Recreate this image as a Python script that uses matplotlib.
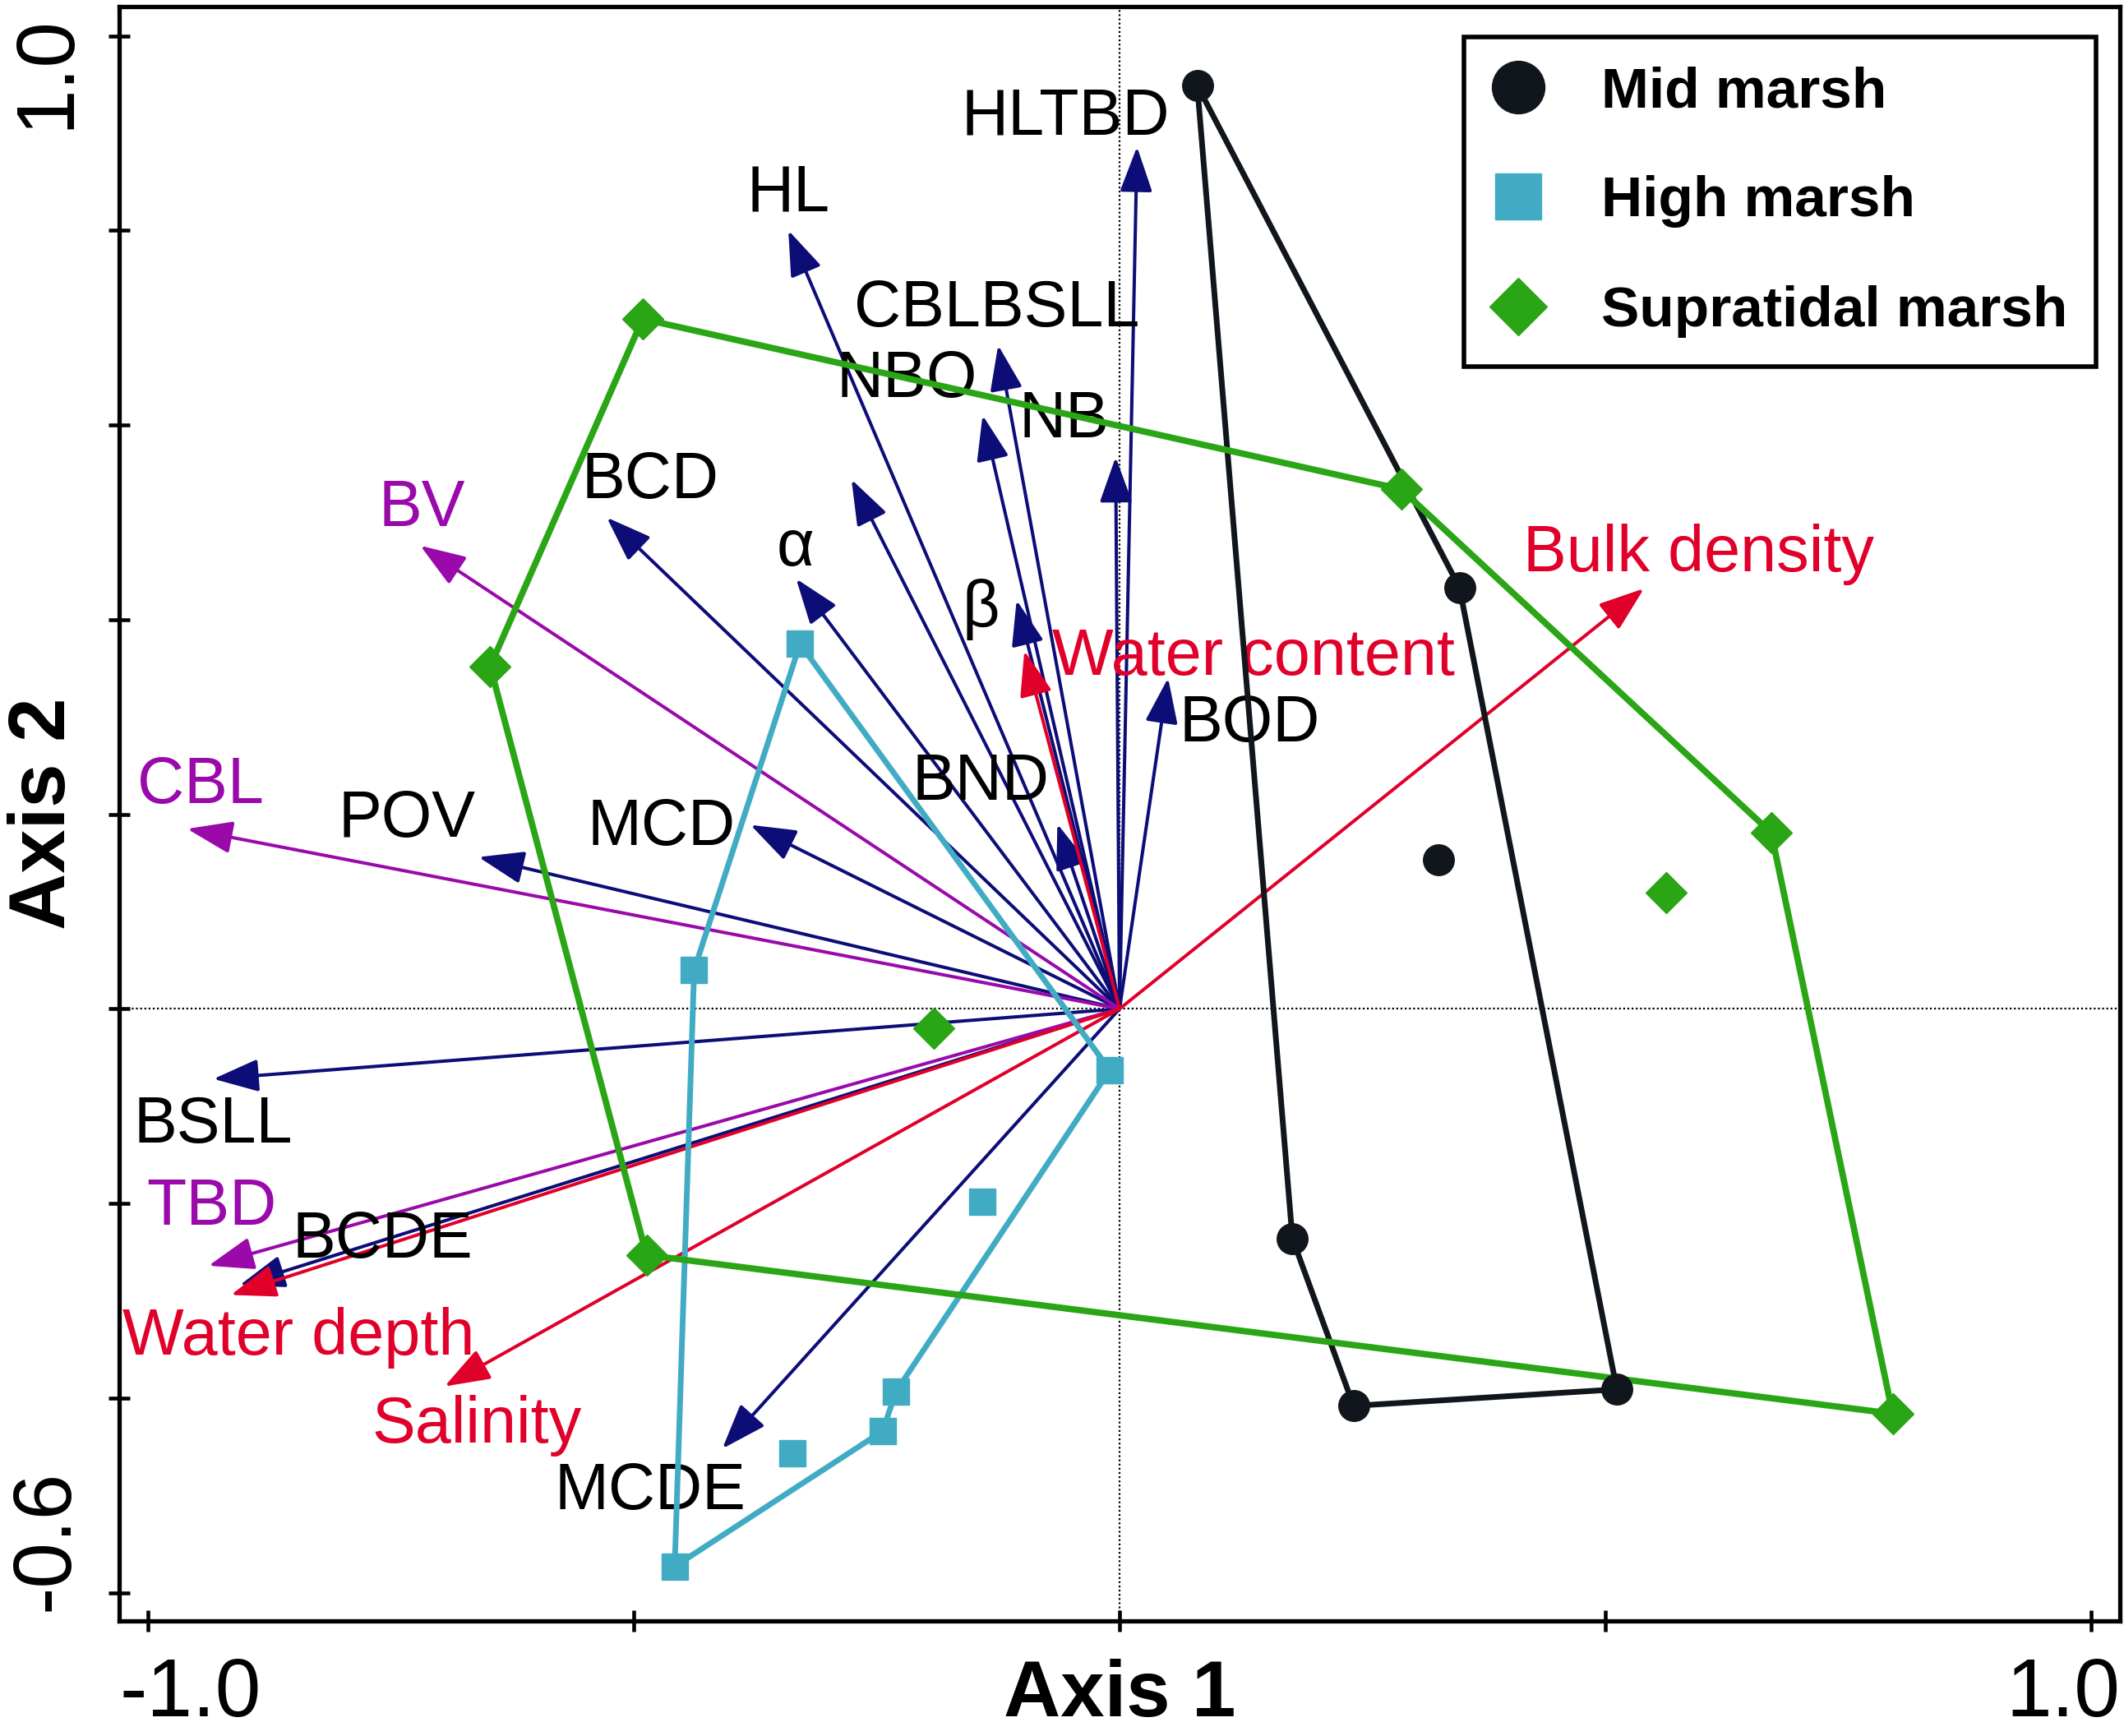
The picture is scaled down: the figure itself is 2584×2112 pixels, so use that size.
import matplotlib
matplotlib.use("Agg")
import matplotlib.pyplot as plt
from matplotlib.lines import Line2D

plt.rcParams['font.family'] = ['Liberation Sans', 'DejaVu Sans']

# Site scores (hull vertices in drawing order, then interior points)
mid_hull_x = [0.080, 0.350, 0.512, 0.241, 0.178]
mid_hull_y = [0.949, 0.433, -0.391, -0.408, -0.236]
mid_in_x = [0.328]
mid_in_y = [0.153]

high_hull_x = [-0.329, -0.010, -0.230, -0.244, -0.458, -0.438]
high_hull_y = [0.375, -0.063, -0.393, -0.434, -0.573, 0.040]
high_in_x = [-0.141, -0.337]
high_in_y = [-0.198, -0.457]

sup_hull_x = [-0.491, 0.290, 0.671, 0.796, -0.487, -0.648]
sup_hull_y = [0.709, 0.534, 0.181, -0.416, -0.253, 0.352]
sup_in_x = [-0.191, 0.563]
sup_in_y = [-0.020, 0.119]

# Trait vectors (navy)
trait_names = ['HLTBD', 'HL', 'CBLBSLL', 'NBO', 'NB', '', 'BCD', 'α', 'β',
               'BOD', 'BND', 'MCD', 'POV', 'BSLL', 'BCDE', 'MCDE']
trait_x = [0.018, -0.341, -0.125, -0.141, -0.004, -0.276, -0.528, -0.333, -0.106,
           0.050, -0.064, -0.380, -0.660, -0.933, -0.906, -0.409]
trait_y = [0.886, 0.800, 0.682, 0.610, 0.567, 0.544, 0.505, 0.442, 0.420,
           0.340, 0.190, 0.189, 0.156, -0.072, -0.284, -0.452]

# Vectors (purple)
purple_names = ['BV', 'CBL', 'TBD']
purple_x = [-0.720, -0.960, -0.938]
purple_y = [0.476, 0.185, -0.264]

# Environmental vectors (red)
env_names = ['Water content', 'Water depth', 'Salinity', 'Bulk density']
env_x = [-0.098, -0.915, -0.695, 0.540]
env_y = [0.368, -0.294, -0.388, 0.432]

# label positions
trait_lab = [(-0.056, 0.923), (-0.341, 0.845), (-0.126, 0.726), (-0.219, 0.653),
             (-0.057, 0.612), (0, 0), (-0.483, 0.549), (-0.334, 0.480),
             (-0.143, 0.418), (0.134, 0.299), (-0.143, 0.239), (-0.472, 0.193),
             (-0.734, 0.201), (-0.933, -0.113), (-0.759, -0.231), (-0.483, -0.490)]
purple_lab = [(-0.718, 0.521), (-0.946, 0.236), (-0.935, -0.197)]
env_lab = [(0.138, 0.368), (-0.845, -0.331), (-0.662, -0.421), (0.596, 0.474)]

legend_labels = ['Mid marsh', 'High marsh', 'Supratidal marsh']

c_mid = '#11151c'
c_high = '#42abc4'
c_sup = '#2aa515'
c_navy = '#0d0d78'
c_purple = '#9a0aab'
c_red = '#e0002a'

fig = plt.figure(figsize=(25.84, 21.12), dpi=100)
ax = fig.add_axes([145 / 2584, 140 / 2112, 2434 / 2584, 1964 / 2112])
ax.set_xlim(-1.03, 1.03)
ax.set_ylim(-0.629, 1.03)

ax.axhline(0, color='black', lw=1.6, ls=(0, (1, 1.3)), zorder=1)
ax.axvline(0, color='black', lw=1.6, ls=(0, (1, 1.3)), zorder=1)

astyle = '-|>,head_length=1.0,head_width=0.36'


def draw_vectors(xs, ys, names, labs, col, txtcol):
    for x, y, name, (lx, ly) in zip(xs, ys, names, labs):
        ax.annotate('', xy=(x, y), xytext=(0, 0),
                    arrowprops=dict(arrowstyle=astyle, color=col, lw=2.9,
                                    mutation_scale=34, shrinkA=0, shrinkB=0),
                    zorder=3)
        if name:
            ax.text(lx, ly, name, color=txtcol, fontsize=57, ha='center',
                    va='center_baseline', zorder=4)


draw_vectors(trait_x, trait_y, trait_names, trait_lab, c_navy, 'black')
draw_vectors(purple_x, purple_y, purple_names, purple_lab, c_purple, c_purple)
draw_vectors(env_x, env_y, env_names, env_lab, c_red, c_red)

# hulls and site points
groups = [
    (mid_hull_x, mid_hull_y, mid_in_x, mid_in_y, c_mid, 'o', 27, 5.0),
    (high_hull_x, high_hull_y, high_in_x, high_in_y, c_high, 's', 23, 5.0),
    (sup_hull_x, sup_hull_y, sup_in_x, sup_in_y, c_sup, 'D', 25, 5.6),
]
for hx, hy, ix, iy, col, mk, ms, lw in groups:
    ax.plot(hx + hx[:1], hy + hy[:1], color=col, lw=lw, zorder=5,
            solid_joinstyle='round')
    ax.plot(hx + ix, hy + iy, ls='none', marker=mk, ms=ms, color=col,
            mec=col, zorder=6)

# axes frame and ticks
for sp in ax.spines.values():
    sp.set_linewidth(3.8)
ax.set_xticks([-1.0, -0.5, 0.0, 0.5, 1.0])
ax.set_yticks([-0.6, -0.4, -0.2, 0.0, 0.2, 0.4, 0.6, 0.8, 1.0])
ax.set_xticklabels([])
ax.set_yticklabels([])
ax.tick_params(direction='inout', length=19, width=3.3)

tick_fs = 72
ax.text(0.0, -0.059, '-1.0', transform=ax.transAxes, ha='left',
        va='baseline', fontsize=tick_fs)
ax.text(1.0, -0.059, '1.0', transform=ax.transAxes, ha='right',
        va='baseline', fontsize=tick_fs)
ax.text(-0.0255, 0.995, '1.0', transform=ax.transAxes, ha='right',
        va='baseline', rotation=90, rotation_mode='anchor', fontsize=tick_fs)
ax.text(-0.0255, 0.006, '-0.6', transform=ax.transAxes, ha='left',
        va='baseline', rotation=90, rotation_mode='anchor', fontsize=tick_fs)

ax.text(0.5, -0.059, 'Axis 1', transform=ax.transAxes, ha='center',
        va='baseline', fontsize=69, fontweight='bold')
ax.text(-0.0374, 0.5, 'Axis 2', transform=ax.transAxes, ha='center',
        va='center', rotation=90, fontsize=69, fontweight='bold')

handles = [
    Line2D([], [], ls='none', marker='o', ms=46, color=c_mid),
    Line2D([], [], ls='none', marker='s', ms=40, color=c_high),
    Line2D([], [], ls='none', marker='D', ms=36, color=c_sup),
]
leg = ax.legend(handles, legend_labels, loc='upper right',
                bbox_to_anchor=(0.988, 0.981), borderaxespad=0,
                prop={'size': 50, 'weight': 'bold'}, frameon=True,
                fancybox=False, edgecolor='black', framealpha=1,
                borderpad=0.5, labelspacing=1.0, handlelength=0.9,
                handletextpad=1.0, handleheight=0.7)
leg.get_frame().set_linewidth(4)
leg.set_zorder(10)

fig.savefig('out.png', dpi=100)
